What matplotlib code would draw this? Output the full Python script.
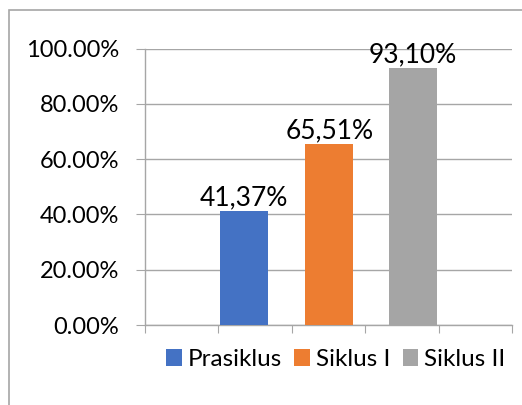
import matplotlib.pyplot as plt
from matplotlib.patches import Rectangle
from matplotlib.ticker import FuncFormatter

series = ["Prasiklus", "Siklus I", "Siklus II"]
values = [41.37, 65.51, 93.10]
labels = ["41,37%", "65,51%", "93,10%"]
colors = ["#4472c4", "#ed7d31", "#a5a5a5"]

plt.rcParams['font.family'] = ['Lato', 'DejaVu Sans']

fig = plt.figure(figsize=(5.22, 4.05), dpi=100)
ax = fig.add_axes([145 / 522, 1 - 325 / 405, (512 - 145) / 522, (325 - 48.7) / 405])

# outer chart border (runs off the right and bottom edge)
fig.patches.append(Rectangle((9 / 522, -0.1), 1.2, 1 - 10 / 405 + 0.1,
                             transform=fig.transFigure, fill=False,
                             edgecolor="#a6a6a6", linewidth=1.2))

pos = [1.35, 2.51, 3.65]
for p, v, lab, c, name in zip(pos, values, labels, colors, series):
    ax.bar(p, v, width=0.65, color=c, label=name, zorder=3)
    ax.text(p, v + 0.3, lab, ha="center", va="bottom", fontsize=19, zorder=4)

ax.set_xlim(0, 5)
ax.set_ylim(0, 100)
ax.set_xticks(range(6))
ax.set_xticklabels([])
ax.set_yticks(range(0, 101, 20))
ax.yaxis.set_major_formatter(FuncFormatter(lambda y, _: f"{y:.2f}%"))
ax.tick_params(axis="y", length=6.5, color="#a6a6a6", labelsize=17, pad=12)
ax.tick_params(axis="x", length=6, color="#a6a6a6")
ax.grid(axis="y", color="#a6a6a6", linewidth=1, zorder=0)

for s in ["top", "right"]:
    ax.spines[s].set_visible(False)
for s in ["left", "bottom"]:
    ax.spines[s].set_color("#a6a6a6")
    ax.spines[s].set_linewidth(1)

ax.legend(loc="center", bbox_to_anchor=(0.52, -0.125), ncol=3, frameon=False,
          fontsize=17.5, handlelength=0.65, handleheight=0.65, handletextpad=0.25,
          columnspacing=0.5, borderaxespad=0, borderpad=0)

fig.savefig("out.png", dpi=100)
